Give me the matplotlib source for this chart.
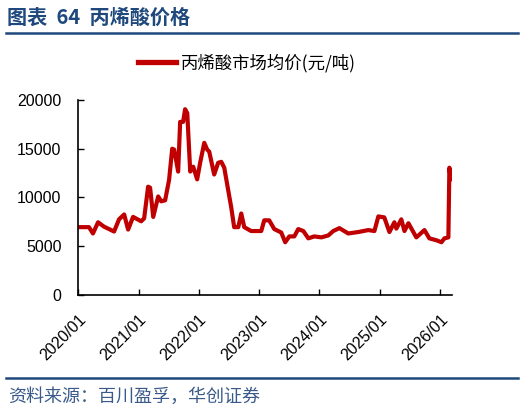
import matplotlib
matplotlib.use("Agg")
import matplotlib.pyplot as plt
import matplotlib.dates as mdates
import numpy as np
import pandas as pd
from matplotlib.lines import Line2D

plt.rcParams['font.family'] = ['Liberation Sans', 'Noto Sans CJK SC', 'DejaVu Sans']

# === Data ===
dates = [
    "2020-01-01", "2020-03-07", "2020-03-31", "2020-05-01", "2020-06-06",
    "2020-08-06", "2020-09-05", "2020-10-06", "2020-10-30", "2020-11-29",
    "2021-01-17", "2021-02-04", "2021-02-28", "2021-03-12", "2021-03-31",
    "2021-04-30", "2021-05-18", "2021-06-11", "2021-07-05", "2021-07-24",
    "2021-08-05", "2021-08-29", "2021-09-10", "2021-09-28", "2021-10-10",
    "2021-10-23", "2021-11-10", "2021-11-28", "2021-12-22", "2022-01-09",
    "2022-02-03", "2022-02-21", "2022-03-05", "2022-04-04", "2022-04-28",
    "2022-05-17", "2022-06-04", "2022-07-16", "2022-08-03", "2022-08-28",
    "2022-09-15", "2022-10-03", "2022-11-14", "2023-01-14", "2023-02-01",
    "2023-03-03", "2023-04-03", "2023-05-15", "2023-06-08", "2023-07-03",
    "2023-08-02", "2023-08-26", "2023-09-26", "2023-10-26", "2023-12-01",
    "2024-01-13", "2024-02-24", "2024-03-25", "2024-05-01", "2024-06-24",
    "2024-08-24", "2024-10-23", "2024-11-29", "2024-12-23", "2025-01-28",
    "2025-02-28", "2025-03-30", "2025-04-11", "2025-05-11", "2025-05-30",
    "2025-06-23", "2025-08-10", "2025-09-28", "2025-10-28", "2025-12-10",
    "2026-01-09", "2026-01-27", "2026-02-20", "2026-02-26", "2026-03-04",
    "2026-03-12",
]
prices = [
    6950, 6950, 6300, 7450, 7000,
    6500, 7750, 8250, 6700, 8000,
    7550, 7850, 11100, 11000, 8000,
    10100, 9600, 9700, 11800, 15000,
    14900, 12650, 17750, 17750, 19050,
    18650, 12650, 13150, 11850, 13550,
    15600, 14900, 14700, 12350, 13550,
    13650, 13050, 9000, 6950, 6950,
    8350, 6950, 6550, 6550, 7650,
    7650, 6750, 6400, 5400, 6000,
    6000, 6750, 6550, 5800, 6000,
    5900, 6100, 6550, 6850, 6300,
    6450, 6650, 6550, 8050, 7950,
    6450, 7450, 6800, 7750, 6550,
    7350, 5900, 6650, 5800, 5600,
    5400, 5800, 5900, 13050, 12200,
    11900,
]
series_label = "丙烯酸市场均价(元/吨)"
title_text = "图表  64  丙烯酸价格"
source_text = "资料来源：百川盈孚，华创证券"
yticks = [0, 5000, 10000, 15000, 20000]
xtick_years = [2020, 2021, 2022, 2023, 2024, 2025, 2026]

df = pd.DataFrame({"date": pd.to_datetime(dates), "price": prices})

# === Figure ===
fig = plt.figure(figsize=(5.24, 4.13), dpi=100)
ax = fig.add_axes([0.149, 0.286, 0.713, 0.472])

ax.plot(df["date"], df["price"], color="#C00000", linewidth=3.0,
        solid_joinstyle="round", label=series_label)

ax.set_ylim(0, 20000)
ax.set_yticks(yticks)
ax.set_xlim(pd.Timestamp("2020-01-01"), pd.Timestamp("2026-03-12"))
ax.set_xticks([pd.Timestamp(f"{y}-01-01") for y in xtick_years])
ax.xaxis.set_major_formatter(mdates.DateFormatter("%Y/%m"))
ax.tick_params(direction="in", length=4, width=1, labelsize=11.5, colors="black")
ax.tick_params(axis="x", pad=12)
ax.tick_params(axis="y", pad=12)
plt.setp(ax.get_xticklabels(), rotation=45, ha="right", rotation_mode="anchor")
for s in ["top", "right"]:
    ax.spines[s].set_visible(False)
for s in ["left", "bottom"]:
    ax.spines[s].set_linewidth(1.2)

leg = ax.legend(loc="center", bbox_to_anchor=(0.471, 0.847), bbox_transform=fig.transFigure,
                frameon=False, handlelength=2.2, handletextpad=0.3,
                prop={"family": ["Noto Sans CJK SC"], "size": 12.5})
leg.get_lines()[0].set_linewidth(3.8)

# === Title / source decorations ===
blue = "#1F497D"
fig.text(0.013, 0.958, title_text, fontsize=14.5, fontweight="bold", color=blue,
         va="center", ha="left", family=["Noto Sans CJK SC"])
fig.add_artist(Line2D([0.011, 0.988], [0.920, 0.920], color=blue, linewidth=1.8))
fig.add_artist(Line2D([0.011, 0.988], [0.085, 0.085], color=blue, linewidth=1.8))
fig.text(0.015, 0.038, source_text, fontsize=13, color="#3A5A8A", style="italic",
         va="center", ha="left", family=["Noto Sans CJK SC"])

fig.savefig("out.png", dpi=100)
